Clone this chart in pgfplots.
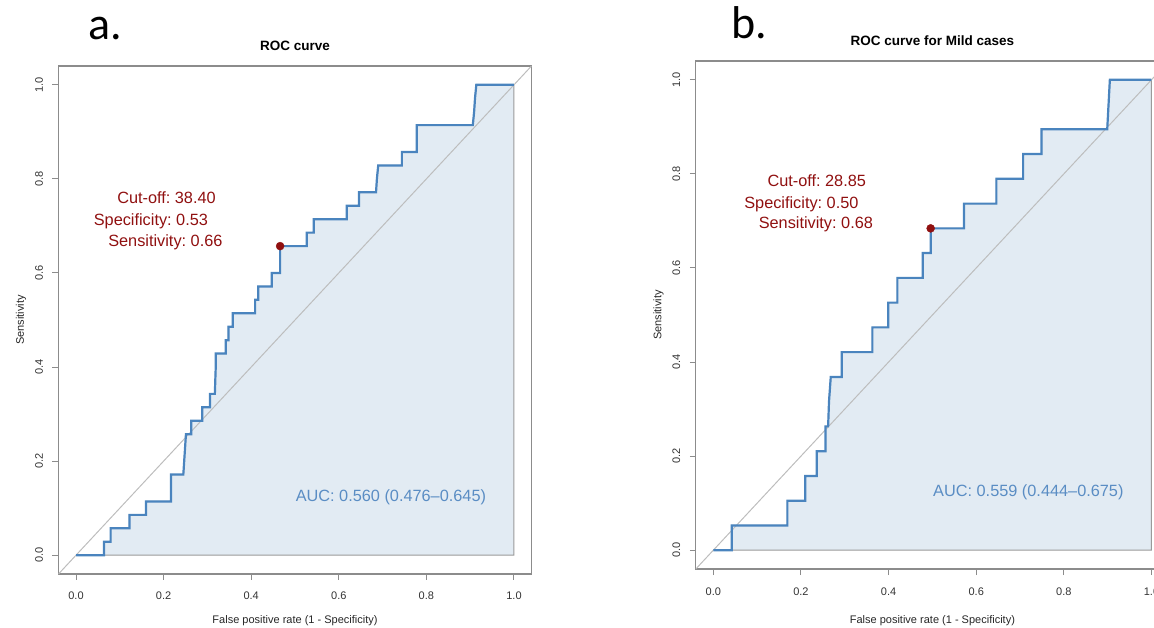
\documentclass[border=0pt]{standalone}
\usepackage{fontspec}
\setmainfont{Liberation Sans}
\newfontfamily\calib{Carlito}
\usepackage{pgfplots}
\usepackage{pgfplotstable}
\pgfplotsset{compat=1.18}
\frenchspacing

\definecolor{rocblue}{HTML}{4A84BE}
\definecolor{aucfill}{HTML}{E2EBF3}
\definecolor{aucborder}{HTML}{9A9A9A}
\definecolor{cutred}{HTML}{901010}
\definecolor{framegray}{HTML}{8C8C8C}
\definecolor{diaggray}{HTML}{BDBDBD}
\definecolor{auctext}{HTML}{5A8DC4}

% ROC curve a (FPR, sensitivity)
\pgfplotstableread{
fpr sens
0.000 0.0000
0.064 0.0000
0.064 0.0286
0.079 0.0286
0.079 0.0571
0.122 0.0571
0.122 0.0857
0.160 0.0857
0.160 0.1143
0.217 0.1143
0.217 0.1714
0.245 0.1714
0.247 0.2000
0.249 0.2286
0.251 0.2571
0.263 0.2571
0.263 0.2857
0.288 0.2857
0.288 0.3143
0.306 0.3143
0.306 0.3429
0.317 0.3429
0.318 0.3714
0.319 0.4000
0.319 0.4286
0.342 0.4286
0.342 0.4571
0.348 0.4571
0.348 0.4857
0.358 0.4857
0.358 0.5143
0.409 0.5143
0.409 0.5429
0.416 0.5429
0.416 0.5714
0.447 0.5714
0.447 0.6000
0.466 0.6000
0.466 0.6571
0.527 0.6571
0.527 0.6857
0.543 0.6857
0.543 0.7143
0.618 0.7143
0.618 0.7429
0.646 0.7429
0.646 0.7714
0.685 0.7714
0.687 0.8000
0.690 0.8286
0.744 0.8286
0.744 0.8571
0.778 0.8571
0.778 0.9143
0.906 0.9143
0.909 0.9429
0.911 0.9714
0.914 1.0000
1.000 1.0000
}\rocA

% ROC curve b, mild cases
\pgfplotstableread{
fpr sens
0.000 0.0000
0.042 0.0000
0.042 0.0526
0.169 0.0526
0.169 0.1053
0.210 0.1053
0.210 0.1579
0.236 0.1579
0.236 0.2105
0.256 0.2105
0.256 0.2632
0.262 0.2632
0.264 0.3158
0.268 0.3684
0.293 0.3684
0.293 0.4211
0.363 0.4211
0.363 0.4737
0.399 0.4737
0.399 0.5263
0.420 0.5263
0.420 0.5789
0.478 0.5789
0.478 0.6316
0.496 0.6316
0.496 0.6842
0.572 0.6842
0.572 0.7368
0.646 0.7368
0.646 0.7895
0.707 0.7895
0.707 0.8421
0.749 0.8421
0.749 0.8947
0.899 0.8947
0.902 0.9474
0.905 1.0000
1.000 1.0000
}\rocB

\pgfkeys{/pgf/number format/assume math mode=true}
\pgfplotsset{
  rocax/.style={
    scale only axis,
    anchor=south west,
    xmin=-0.04, xmax=1.04, ymin=-0.04, ymax=1.04,
    xtick={0,0.2,0.4,0.6,0.8,1}, ytick={0,0.2,0.4,0.6,0.8,1},
    tick pos=left, tick align=outside, major tick length=6pt,
    axis line style={framegray, line width=1.2pt},
    tick style={framegray, line width=1pt},
    ticklabel style={font=\fontsize{11}{13}\selectfont, text=black!80,
      /pgf/number format/fixed, /pgf/number format/fixed zerofill,
      /pgf/number format/precision=1},
    xticklabel style={anchor=base},
    yticklabel style={rotate=90, anchor=base},
    xticklabel shift=20pt,
    yticklabel shift=9.6pt,
    title style={font=\bfseries\fontsize{13.5}{15}\selectfont, at={(0.5,1)}, anchor=base, yshift=9.5pt},
    label style={font=\fontsize{11}{13}\selectfont, text=black!85},
    ylabel style={at={(axis description cs:-0.073,0.5)}, anchor=base},
    ylabel={Sensitivity},
    xlabel={False positive rate (1 - Specificity)},
  },
}
\tikzset{
  cuttxt/.style={cutred, anchor=base, font=\fontsize{16.3}{18}\selectfont},
  auctxt/.style={auctext, anchor=base, font=\fontsize{16.3}{18}\selectfont},
}

\begin{document}
\begin{tikzpicture}
\path[use as bounding box] (0pt,0pt) rectangle (1154pt,627pt);
\clip (0pt,0pt) rectangle (1154pt,627pt);

\node[anchor=base west, font=\calib\fontsize{46}{50}\selectfont] at (84.5pt,587pt) {a.};
\node[anchor=base west, font=\calib\fontsize{46}{50}\selectfont] at (727.5pt,588pt) {b.};

% panel a
\begin{axis}[
  rocax,
  at={(58.5pt,53pt)},
  width=473pt, height=508pt,
  title={ROC curve},
  xlabel style={at={(axis description cs:0.5,-0.0972)}, anchor=base},
]
\addplot[fill=aucfill, draw=aucborder, line width=1pt] table[x=fpr, y=sens] {\rocA} \closedcycle;
\addplot[diaggray, line width=1pt] coordinates {(-0.04,-0.04) (1.04,1.04)};
\addplot[rocblue, line width=2.2pt] table[x=fpr, y=sens] {\rocA};
\addplot[only marks, mark=*, mark size=4pt, cutred] coordinates {(0.466,0.6571)};
\node[cuttxt] at (axis cs:0.2066,0.747) {Cut-off: 38.40};
\node[cuttxt] at (axis cs:0.171,0.700) {Specificity: 0.53};
\node[cuttxt] at (axis cs:0.204,0.656) {Sensitivity: 0.66};
\node[auctxt] at (axis cs:0.719,0.115) {AUC: 0.560 (0.476–0.645)};
\end{axis}

% panel b
\begin{axis}[
  rocax,
  at={(695.8pt,58pt)},
  width=473.2pt, height=508pt,
  title={ROC curve for Mild cases},
  xlabel style={at={(axis description cs:0.5,-0.107)}, anchor=base},
]
\addplot[fill=aucfill, draw=aucborder, line width=1pt] table[x=fpr, y=sens] {\rocB} \closedcycle;
\addplot[diaggray, line width=1pt] coordinates {(-0.04,-0.04) (1.04,1.04)};
\addplot[rocblue, line width=2.2pt] table[x=fpr, y=sens] {\rocB};
\addplot[only marks, mark=*, mark size=4pt, cutred] coordinates {(0.496,0.6842)};
\node[cuttxt] at (axis cs:0.236,0.773) {Cut-off: 28.85};
\node[cuttxt] at (axis cs:0.201,0.727) {Specificity: 0.50};
\node[cuttxt] at (axis cs:0.234,0.683) {Sensitivity: 0.68};
\node[auctxt] at (axis cs:0.719,0.114) {AUC: 0.559 (0.444–0.675)};
\end{axis}
\end{tikzpicture}
\end{document}
